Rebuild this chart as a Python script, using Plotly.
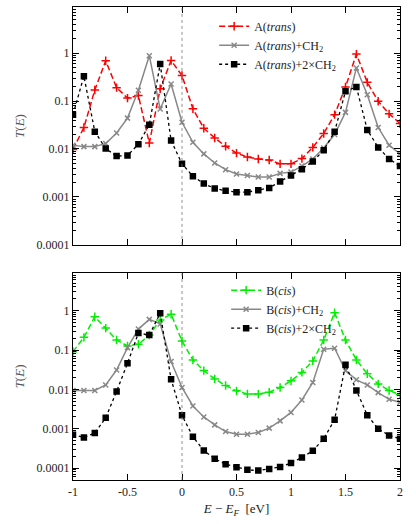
import plotly.graph_objects as go
from plotly.subplots import make_subplots

energy = [round(-1 + 0.1 * i, 1) for i in range(31)]

a_trans = [0.0098, 0.028, 0.17, 0.69, 0.19, 0.115, 0.13, 0.0133, 0.18, 0.70, 0.34,
           0.069, 0.027, 0.017, 0.0114, 0.0082, 0.0068, 0.0062, 0.0059, 0.0049, 0.0049,
           0.0063, 0.0108, 0.021, 0.052, 0.196, 0.95, 0.245, 0.099, 0.054, 0.034]
a_trans_ch2 = [0.012, 0.0112, 0.0112, 0.013, 0.0215, 0.044, 0.167, 0.88, 0.068, 0.226, 0.036,
               0.0138, 0.0079, 0.0051, 0.0037, 0.0030, 0.0028, 0.0026, 0.0026, 0.0031, 0.0033,
               0.0044, 0.0062, 0.0105, 0.020, 0.058, 0.49, 0.135, 0.028, 0.012, 0.0079]
a_trans_2ch2 = [0.052, 0.33, 0.023, 0.0102, 0.0071, 0.0073, 0.0126, 0.032, 0.59, 0.015, 0.0049,
                0.0027, 0.0019, 0.0015, 0.00135, 0.00126, 0.00126, 0.00138, 0.00154, 0.0021, 0.0028,
                0.0038, 0.0055, 0.0094, 0.023, 0.16, 0.196, 0.025, 0.0108, 0.0062, 0.0044]

b_cis = [0.091, 0.21, 0.70, 0.36, 0.18, 0.127, 0.14, 0.24, 0.58, 0.81, 0.17,
         0.056, 0.030, 0.0185, 0.0126, 0.0092, 0.0077, 0.0076, 0.0085, 0.0112, 0.0165,
         0.027, 0.053, 0.18, 0.89, 0.18, 0.056, 0.025, 0.0138, 0.0094, 0.0073]
b_cis_ch2 = [0.0094, 0.0094, 0.0094, 0.013, 0.031, 0.115, 0.34, 0.60, 0.46, 0.051, 0.0112,
             0.0038, 0.0020, 0.00126, 0.00085, 0.00073, 0.00073, 0.00081, 0.00104, 0.00159, 0.0026,
             0.0054, 0.015, 0.105, 0.111, 0.030, 0.0175, 0.013, 0.0083, 0.0056, 0.0047]
b_cis_2ch2 = [0.00071, 0.0006, 0.00078, 0.0019, 0.0089, 0.046, 0.27, 0.24, 0.86, 0.018, 0.0022,
              0.00063, 0.00028, 0.000174, 0.000126, 0.000105, 0.000091, 0.000087, 0.000095, 0.000107, 0.000135,
              0.000187, 0.000276, 0.00056, 0.0017, 0.042, 0.0094, 0.0022, 0.001, 0.00068, 0.00056]

y_ticks = [1, 0.1, 0.01, 0.001, 0.0001]
y_labels = ["1", "0.1", "0.01", "0.001", "0.0001"]
x_ticks = [-1, -0.5, 0, 0.5, 1, 1.5, 2]
x_labels = ["-1", "-0.5", "0", "0.5", "1", "1.5", "2"]

FONT = "Liberation Serif, DejaVu Serif, serif"
TEXT = "#222222"

fig = make_subplots(rows=2, cols=1, vertical_spacing=0.06)

styles = [
    dict(color="#ff0000", symbol="cross-thin", dash="6px,3px", width=1.5, size=6),
    dict(color="#888888", symbol="x-thin", dash="solid", width=1.5, size=5),
    dict(color="#000000", symbol="square-x", dash="3px,3px", width=1.3, size=5),
]
green = dict(color="#00ee00", symbol="cross-thin", dash="6px,3px", width=1.5, size=6)

top = [("A(<i>trans</i>)", a_trans), ("A(<i>trans</i>)+CH<sub>2</sub>", a_trans_ch2),
       ("A(<i>trans</i>)+2×CH<sub>2</sub>", a_trans_2ch2)]
bottom = [("B(<i>cis</i>)", b_cis), ("B(<i>cis</i>)+CH<sub>2</sub>", b_cis_ch2),
          ("B(<i>cis</i>)+2×CH<sub>2</sub>", b_cis_2ch2)]

for row, series, legend in [(1, top, "legend"), (2, bottom, "legend2")]:
    for i, (name, vals) in enumerate(series):
        st = green if (row == 2 and i == 0) else styles[i]
        fig.add_trace(go.Scatter(
            x=energy, y=vals, name=name, mode="lines+markers", legend=legend,
            line=dict(color=st["color"], dash=st["dash"], width=st["width"]),
            marker=dict(symbol=st["symbol"], size=st["size"], color=st["color"],
                        line=dict(color=st["color"], width=1.5)),
        ), row=row, col=1)
    fig.add_vline(x=0, line=dict(color="#777777", width=0.8, dash="dot"), row=row, col=1)

axis_common = dict(showline=True, linecolor="black", linewidth=1.2, mirror="ticks",
                   ticks="inside", ticklen=6, tickcolor="black", showgrid=False, zeroline=False,
                   automargin=False, tickfont=dict(family=FONT, size=12, color=TEXT))

fig.update_xaxes(range=[-1, 2], tickvals=x_ticks, ticktext=x_labels, **axis_common)
fig.update_xaxes(showticklabels=False, row=1, col=1)
fig.update_xaxes(title=dict(text="<i>E</i> − <i>E<sub>F</sub></i>  [eV]",
                            font=dict(family=FONT, size=13, color=TEXT), standoff=6),
                 row=2, col=1)

fig.update_yaxes(type="log", tickvals=y_ticks, ticktext=y_labels,
                 minor=dict(ticks="inside", ticklen=3, tickcolor="black", dtick="D1"),
                 title=dict(text="<i>T</i>(<i>E</i>)", font=dict(family=FONT, size=13, color="#555555"),
                            standoff=8),
                 **axis_common)
fig.update_yaxes(range=[-4, 0.96], row=1, col=1)
fig.update_yaxes(range=[-4.3, 0.96], row=2, col=1)

legend_style = dict(xanchor="right", yanchor="top", bgcolor="rgba(0,0,0,0)",
                    font=dict(family=FONT, size=12, color=TEXT), tracegroupgap=0, itemwidth=30)

fig.update_layout(
    width=416, height=524,
    margin=dict(l=73, r=16, t=7, b=44),
    paper_bgcolor="white", plot_bgcolor="white",
    font=dict(family=FONT, size=12, color=TEXT),
    xaxis=dict(domain=[0, 1]), xaxis2=dict(domain=[0, 1]),
    yaxis=dict(domain=[0.497, 1]), yaxis2=dict(domain=[0, 0.438]),
    legend=dict(x=0.82, y=0.99, **legend_style),
    legend2=dict(x=0.82, y=0.432, **legend_style),
)

fig.write_html("out.html", config={"displayModeBar": False},
               post_script="document.body.style.margin = '0';")
